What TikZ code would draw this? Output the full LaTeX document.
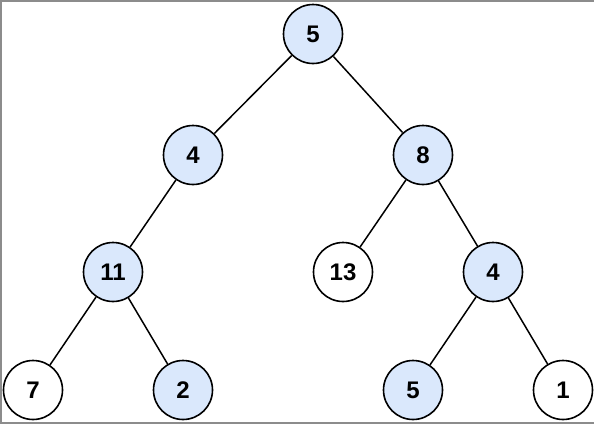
\documentclass[tikz,border=0pt]{standalone}
\usepackage{fontspec}
\setmainfont{Liberation Sans}
\definecolor{nodefill}{HTML}{DAE8FC}
\definecolor{frame}{HTML}{8C8C8C}
\begin{document}
\begin{tikzpicture}[x=1pt,y=-1pt,
  tn/.style={circle,draw=black,line width=1.6pt,minimum size=59pt,inner sep=0pt,
    font=\fontsize{24}{28}\selectfont\bfseries},
  bl/.style={tn,fill=nodefill},
  wh/.style={tn,fill=white},
  edge/.style={line width=1.5pt}]
\useasboundingbox (0,0) rectangle (594,424);
\fill[white] (0,0) rectangle (594,424);
\draw[frame,line width=2pt] (1,0) -- (1,423) -- (594,423);
\draw[frame,line width=1.5pt] (0,1) -- (594,1);
\node[bl] (n5) at (313,34) {5};
\node[bl] (n4) at (193,155) {4};
\node[bl] (n8) at (423,155) {8};
\node[bl] (n11) at (113,272) {11};
\node[wh] (n13) at (343,272) {13};
\node[bl] (n4b) at (493,272) {4};
\node[wh] (n7) at (33,390) {7};
\node[bl] (n2) at (183,390) {2};
\node[bl] (n5b) at (413,390) {5};
\node[wh] (n1) at (563,390) {1};
\draw[edge] (n5) -- (n4);
\draw[edge] (n5) -- (n8);
\draw[edge] (n4) -- (n11);
\draw[edge] (n8) -- (n13);
\draw[edge] (n8) -- (n4b);
\draw[edge] (n11) -- (n7);
\draw[edge] (n11) -- (n2);
\draw[edge] (n4b) -- (n5b);
\draw[edge] (n4b) -- (n1);
\end{tikzpicture}
\end{document}
